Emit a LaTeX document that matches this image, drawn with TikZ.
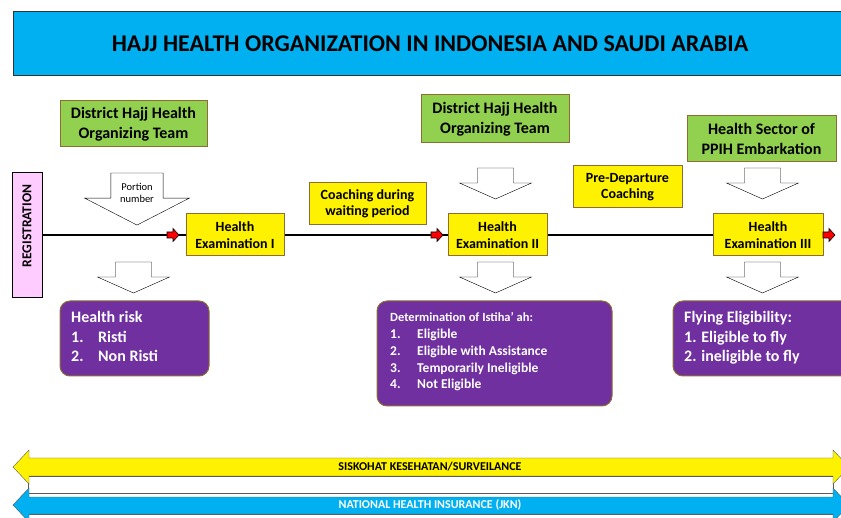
\documentclass[tikz,border=0pt]{standalone}
\usepackage{fontspec}
\setmainfont{Carlito}

\definecolor{titleblue}{RGB}{0,176,240}
\definecolor{boxgreen}{RGB}{146,208,80}
\definecolor{boxpurple}{RGB}{112,48,160}
\definecolor{regpink}{RGB}{255,204,255}
\definecolor{edgebrown}{RGB}{140,110,50}
\definecolor{bandedge}{RGB}{90,90,90}

\newcommand{\itm}[3][27pt]{\makebox[#1][l]{#2}#3}

\tikzset{
  greenbox/.style={draw=edgebrown, fill=boxgreen, line width=1pt, align=center, inner sep=0pt,
    font=\fontsize{16}{20}\selectfont\bfseries},
  yellowbox/.style={draw=edgebrown, fill=yellow, line width=1pt, align=center, inner sep=0pt,
    font=\fontsize{14}{16.5}\selectfont\bfseries},
  purplebox/.style={draw=edgebrown, fill=boxpurple, line width=1pt, rounded corners=10pt, inner sep=0pt},
  purpletext/.style={text=white, align=left, anchor=north west, inner sep=0pt},
  bandtext/.style={inner sep=0pt, font=\fontsize{12}{13}\selectfont\bfseries},
  pics/downarrow/.style={code={
    \draw[fill=white] (-18,0) -- (18,0) -- (18,15) -- (36,15) -- (0,31) -- (-36,15) -- (-18,15) -- cycle;}},
  pics/redhead/.style={code={
    \filldraw[fill=red, draw=black, line width=0.6pt] (-6,-3) -- (0,-3) -- (0,-6.5) -- (6,0) -- (0,6.5) -- (0,3) -- (-6,3) -- cycle;}}
}

\begin{document}
\begin{tikzpicture}[x=1pt, y=-1pt]
  \useasboundingbox (0,0) rectangle (841,518);

  % title
  \filldraw[fill=titleblue, draw=black!80, line width=1pt] (13,12) rectangle (860,76);
  \node[font=\fontsize{24}{28}\selectfont\bfseries] (title) at (430,44) {HAJJ HEALTH ORGANIZATION IN INDONESIA AND SAUDI ARABIA};

  % registration
  \node[draw=black, fill=regpink, line width=1pt, minimum width=30pt, minimum height=125pt, inner sep=0pt] (reg) at (27,235.5) {};
  \node[rotate=90, font=\fontsize{13.6}{16}\selectfont\bfseries] at (27,226) {REGISTRATION};

  % organizers
  \node[greenbox, minimum width=147pt, minimum height=46pt] (team1) at (133.5,124) {District Hajj Health\\Organizing Team};
  \node[greenbox, minimum width=148pt, minimum height=48pt] (team2) at (495,119) {District Hajj Health\\Organizing Team};
  \node[greenbox, minimum width=149pt, minimum height=46pt] (ppih) at (761.5,139) {Health Sector of\\PPIH Embarkation};

  % examinations and coaching
  \node[yellowbox, minimum width=98pt, minimum height=42pt] (exam1) at (235,235) {Health\\Examination I};
  \node[yellowbox, minimum width=117pt, minimum height=42pt] (coach1) at (367.5,204) {Coaching during\\waiting period};
  \node[yellowbox, minimum width=99pt, minimum height=42pt] (exam2) at (497.5,235) {Health\\Examination II};
  \node[yellowbox, minimum width=109pt, minimum height=42pt] (coach2) at (627.5,187) {Pre-Departure\\Coaching};
  \node[yellowbox, minimum width=110pt, minimum height=42pt] (exam3) at (768,235) {Health\\Examination III};

  % main line
  \draw[line width=1.5pt] (reg.east |- exam1.west) -- (exam1.west);
  \draw[line width=1.5pt] (exam1.east) -- (exam2.west);
  \draw[line width=1.5pt] (exam2.east) -- (exam3.west);
  \pic at (173,235) {redhead};
  \pic at (437,235) {redhead};
  \pic at (829,235) {redhead};

  % block arrows
  \pic[xscale=1.45, yscale=1.68] at (137,173) {downarrow};
  \node[align=center, font=\fontsize{10.5}{12}\selectfont] (portion) at (137,193) {Portion\\number};
  \pic at (133.5,262) {downarrow};
  \pic at (495.5,168) {downarrow};
  \pic at (495.5,262) {downarrow};
  \pic at (762.5,168) {downarrow};
  \pic at (762.5,262) {downarrow};

  % results
  \node[purplebox, minimum width=149pt, minimum height=75pt] (risk) at (134.5,338.5) {};
  \node[purpletext, font=\fontsize{16}{19.5}\selectfont\bfseries] at (71,311.5) {Health risk\\\itm{1.}{Risti}\\\itm{2.}{Non Risti}};
  \node[purplebox, minimum width=235pt, minimum height=105pt] (istitaah) at (494.5,353.5) {};
  \node[purpletext, font=\fontsize{13.5}{16.8}\selectfont\bfseries] at (390,312.5) {{\fontsize{12.5}{16.8}\selectfont Determination of Istiha' ah:}\\\itm{1.}{Eligible}\\\itm{2.}{Eligible with Assistance}\\\itm{3.}{Temporarily Ineligible}\\\itm{4.}{Not Eligible}};
  \node[purplebox, minimum width=182pt, minimum height=75pt] (fly) at (764,338.5) {};
  \node[purpletext, font=\fontsize{16}{19.5}\selectfont\bfseries] at (684,311.5) {Flying Eligibility:\\1. Eligible to fly\\2. ineligible to fly};

  % bands
  \draw[draw=bandedge, fill=white] (28,476) rectangle (833,493);
  \filldraw[draw=bandedge, fill=yellow] (13,467) -- (29,450) -- (29,458) -- (833,458) -- (833,450) -- (849,467)
    -- (833,484) -- (833,476) -- (29,476) -- (29,484) -- cycle;
  \node[bandtext] (siskohat) at (430,467) {SISKOHAT KESEHATAN/SURVEILANCE};
  \draw[draw=bandedge, fill=white] (28,514) rectangle (833,531);
  \filldraw[draw=bandedge, fill=titleblue] (13,505) -- (29,488) -- (29,497) -- (833,497) -- (833,488) -- (849,505)
    -- (833,522) -- (833,514) -- (29,514) -- (29,522) -- cycle;
  \node[bandtext, text=white] (jkn) at (430,505) {NATIONAL HEALTH INSURANCE (JKN)};
\end{tikzpicture}
\end{document}
